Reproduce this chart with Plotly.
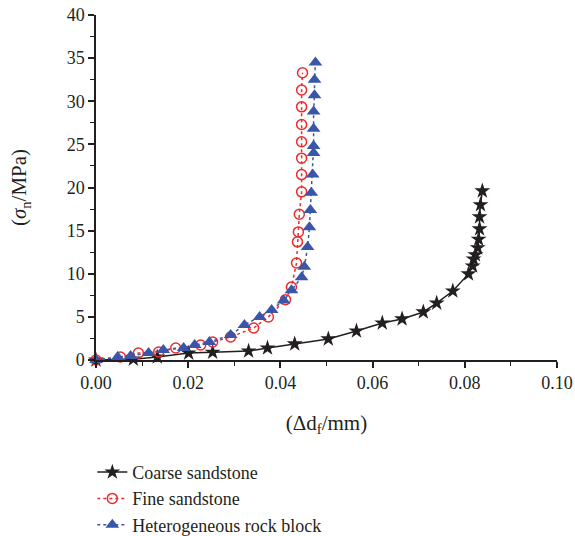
import plotly.graph_objects as go

# Normal stress vs. fracture closure for three rock types
coarse_x = [0.0, 0.0081, 0.0133, 0.0201, 0.0253, 0.0331, 0.0372, 0.0431, 0.0504, 0.0565,
            0.0621, 0.0664, 0.0710, 0.0739, 0.0774, 0.0808, 0.0817, 0.0819, 0.0823, 0.0828,
            0.0830, 0.0832, 0.0832, 0.0834, 0.0838]
coarse_y = [0.0, 0.1, 0.35, 0.8, 0.9, 1.04, 1.39, 1.86, 2.44, 3.36,
            4.29, 4.76, 5.57, 6.6, 8.0, 9.98, 10.9, 11.7, 12.2, 13.0,
            14.0, 15.2, 16.6, 18.0, 19.6]

fine_x = [0.0, 0.0053, 0.0092, 0.0136, 0.0173, 0.0227, 0.0253, 0.0292, 0.0342, 0.0374,
          0.0411, 0.0424, 0.0435, 0.0437, 0.0439, 0.0441, 0.0446, 0.0446, 0.0446, 0.0446,
          0.0446, 0.0446, 0.0446, 0.0448]
fine_y = [0.0, 0.35, 0.81, 0.93, 1.39, 1.74, 2.09, 2.67, 3.71, 4.99,
          7.0, 8.47, 11.25, 13.7, 14.85, 16.9, 19.5, 21.5, 23.4, 25.3,
          27.3, 29.35, 31.3, 33.3]

hetero_x = [0.0, 0.0047, 0.0075, 0.0114, 0.0146, 0.0190, 0.0214, 0.0246, 0.0292, 0.0322,
            0.0355, 0.0381, 0.0407, 0.0424, 0.0446, 0.0452, 0.0459, 0.0463, 0.0465, 0.0467,
            0.0470, 0.0472, 0.0472, 0.0472, 0.0472, 0.0474, 0.0474, 0.0476]
hetero_y = [0.0, 0.35, 0.46, 0.81, 1.16, 1.39, 1.74, 2.09, 2.9, 4.06,
            4.99, 5.8, 6.9, 8.1, 9.6, 10.8, 13.1, 15.4, 17.4, 19.4,
            21.5, 24.0, 24.8, 26.8, 28.8, 30.7, 32.5, 34.5]

FONT = "Liberation Serif"
INK = "#231f20"
RED = "#ee2a2a"
BLUE = "#3a56a8"

fig = go.Figure()

fig.add_trace(go.Scatter(
    x=coarse_x, y=coarse_y, name="Coarse sandstone", mode="lines+markers",
    line=dict(color=INK, width=1.5),
    marker=dict(symbol="star", size=12, color=INK),
    cliponaxis=False,
))
fig.add_trace(go.Scatter(
    x=fine_x, y=fine_y, name="Fine sandstone", mode="lines+markers",
    line=dict(color=RED, width=1.5, dash="dot"),
    marker=dict(symbol="circle-open", size=10, color=RED, line=dict(width=1.5)),
    cliponaxis=False,
))
fig.add_trace(go.Scatter(
    x=hetero_x, y=hetero_y, name="Heterogeneous rock block", mode="lines+markers",
    line=dict(color=BLUE, width=1.5, dash="dot"),
    marker=dict(symbol="triangle-up", size=12, color=BLUE),
    cliponaxis=False,
))

axis_common = dict(
    showline=True, linecolor=INK, linewidth=1.5,
    ticks="outside", ticklen=6, tickwidth=1.5, tickcolor=INK,
    showgrid=False, zeroline=False, automargin=False,
    tickfont=dict(family=FONT, size=18, color=INK),
)

fig.update_xaxes(
    range=[0, 0.1], dtick=0.02, tickformat=".2f",
    minor=dict(ticks="outside", ticklen=4, dtick=0.01, tickcolor=INK, tickwidth=1.2),
    title=dict(text="(Δd<sub>f</sub>/mm)", font=dict(family=FONT, size=21, color=INK), standoff=23),
    **axis_common,
)
fig.update_yaxes(
    range=[0, 40], dtick=5,
    minor=dict(ticks="outside", ticklen=4, dtick=2.5, tickcolor=INK, tickwidth=1.2),
    title=dict(text="(<i>σ</i><sub>n</sub>/MPa)", font=dict(family=FONT, size=21, color=INK), standoff=34),
    **axis_common,
)

fig.update_layout(
    width=575, height=536,
    margin=dict(l=95.5, r=18.3, t=15, b=176, autoexpand=False),
    paper_bgcolor="white", plot_bgcolor="white",
    showlegend=True,
    legend=dict(
        x=-0.008, y=-0.272, xanchor="left", yanchor="top",
        font=dict(family=FONT, size=18, color=INK),
        bgcolor="rgba(0,0,0,0)", tracegroupgap=0,
    ),
)

fig.write_html("out.html")
